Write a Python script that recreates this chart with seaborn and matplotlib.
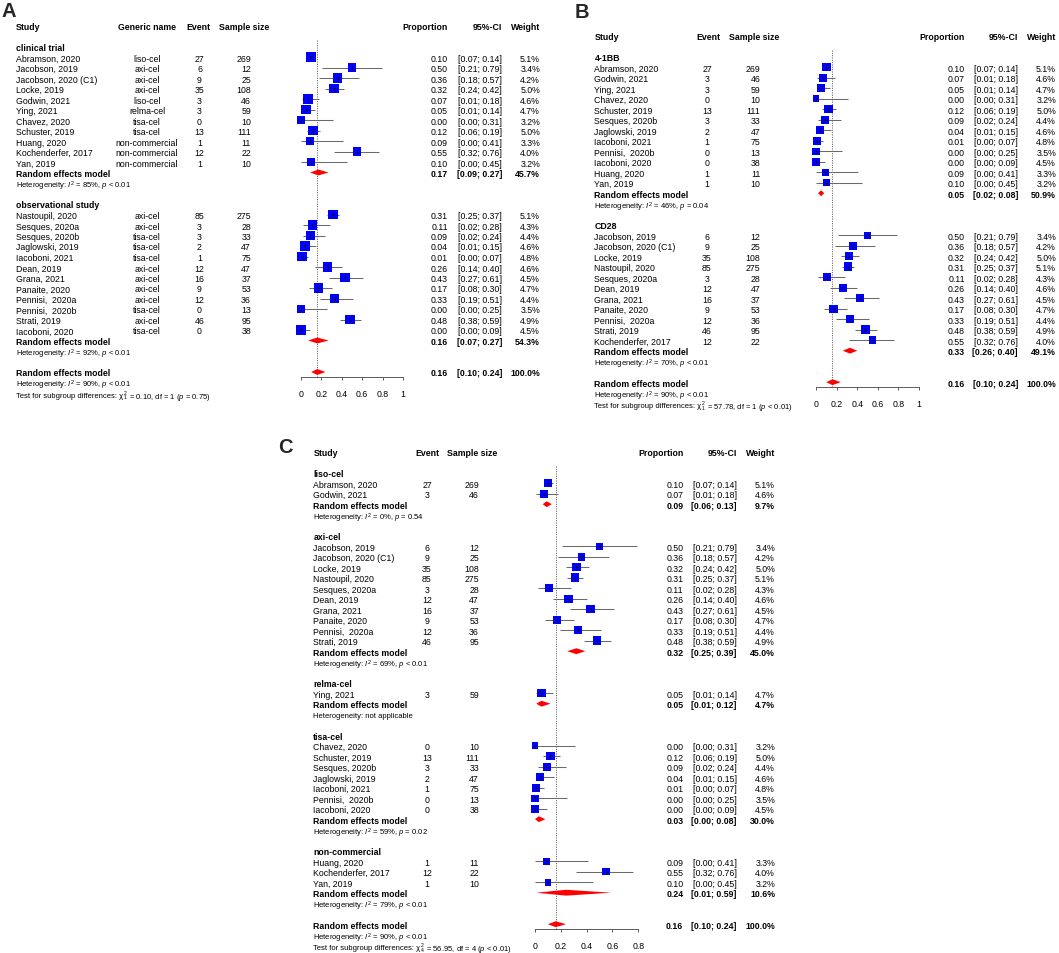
import matplotlib
matplotlib.use("Agg")
import matplotlib.pyplot as plt
import matplotlib.transforms as mtransforms
import pandas as pd
import seaborn as sns

sns.set_theme(style="white")
plt.rcParams["font.family"] = ["Liberation Sans", "DejaVu Sans"]
plt.rcParams["mathtext.fontset"] = "custom"
plt.rcParams["mathtext.rm"] = "Liberation Sans"
plt.rcParams["mathtext.it"] = "Liberation Sans:italic"
plt.rcParams["mathtext.bf"] = "Liberation Sans:bold"

# ---------------- data ----------------
studies = ["Abramson, 2020", "Jacobson, 2019", "Jacobson, 2020 (C1)", "Locke, 2019",
           "Godwin, 2021", "Ying, 2021", "Chavez, 2020", "Schuster, 2019", "Huang, 2020",
           "Kochenderfer, 2017", "Yan, 2019", "Nastoupil, 2020", "Sesques, 2020a",
           "Sesques, 2020b", "Jaglowski, 2019", "Iacoboni, 2021", "Dean, 2019", "Grana, 2021",
           "Panaite, 2020", "Pennisi,  2020a", "Pennisi,  2020b", "Strati, 2019", "Iacoboni, 2020"]
generic = ["liso-cel", "axi-cel", "axi-cel", "axi-cel", "liso-cel", "relma-cel", "tisa-cel",
           "tisa-cel", "non-commercial", "non-commercial", "non-commercial", "axi-cel", "axi-cel",
           "tisa-cel", "tisa-cel", "tisa-cel", "axi-cel", "axi-cel", "axi-cel", "axi-cel",
           "tisa-cel", "axi-cel", "tisa-cel"]
events = [27, 6, 9, 35, 3, 3, 0, 13, 1, 12, 1, 85, 3, 3, 2, 1, 12, 16, 9, 12, 0, 46, 0]
sample_size = [269, 12, 25, 108, 46, 59, 10, 111, 11, 22, 10, 275, 28, 33, 47, 75, 47, 37,
               53, 36, 13, 95, 38]
proportion = [0.10, 0.50, 0.36, 0.32, 0.07, 0.05, 0.00, 0.12, 0.09, 0.55, 0.10, 0.31, 0.11,
              0.09, 0.04, 0.01, 0.26, 0.43, 0.17, 0.33, 0.00, 0.48, 0.00]
ci_low = [0.07, 0.21, 0.18, 0.24, 0.01, 0.01, 0.00, 0.06, 0.00, 0.32, 0.00, 0.25, 0.02,
          0.02, 0.01, 0.00, 0.14, 0.27, 0.08, 0.19, 0.00, 0.38, 0.00]
ci_high = [0.14, 0.79, 0.57, 0.42, 0.18, 0.14, 0.31, 0.19, 0.41, 0.76, 0.45, 0.37, 0.28,
           0.24, 0.15, 0.07, 0.40, 0.61, 0.30, 0.51, 0.25, 0.59, 0.09]
weight = [5.1, 3.4, 4.2, 5.0, 4.6, 4.7, 3.2, 5.0, 3.3, 4.0, 3.2, 5.1, 4.3, 4.4, 4.6, 4.8,
          4.6, 4.5, 4.7, 4.4, 3.5, 4.9, 4.5]

overall_est, overall_lo, overall_hi, overall_w = 0.16, 0.10, 0.24, 100.0
overall_i2, overall_p = 90, "< 0.01"

A_groups = ["clinical trial", "observational study"]
A_members = [["Abramson, 2020", "Jacobson, 2019", "Jacobson, 2020 (C1)", "Locke, 2019",
              "Godwin, 2021", "Ying, 2021", "Chavez, 2020", "Schuster, 2019", "Huang, 2020",
              "Kochenderfer, 2017", "Yan, 2019"],
             ["Nastoupil, 2020", "Sesques, 2020a", "Sesques, 2020b", "Jaglowski, 2019",
              "Iacoboni, 2021", "Dean, 2019", "Grana, 2021", "Panaite, 2020", "Pennisi,  2020a",
              "Pennisi,  2020b", "Strati, 2019", "Iacoboni, 2020"]]
A_re_est = [0.17, 0.16]
A_re_lo = [0.09, 0.07]
A_re_hi = [0.27, 0.27]
A_re_w = [45.7, 54.3]
A_i2 = [85, 92]
A_p = ["< 0.01", "< 0.01"]
A_test = ["1", "0.10", "1", "= 0.75"]

B_groups = ["4-1BB", "CD28"]
B_members = [["Abramson, 2020", "Godwin, 2021", "Ying, 2021", "Chavez, 2020", "Schuster, 2019",
              "Sesques, 2020b", "Jaglowski, 2019", "Iacoboni, 2021", "Pennisi,  2020b",
              "Iacoboni, 2020", "Huang, 2020", "Yan, 2019"],
             ["Jacobson, 2019", "Jacobson, 2020 (C1)", "Locke, 2019", "Nastoupil, 2020",
              "Sesques, 2020a", "Dean, 2019", "Grana, 2021", "Panaite, 2020", "Pennisi,  2020a",
              "Strati, 2019", "Kochenderfer, 2017"]]
B_re_est = [0.05, 0.33]
B_re_lo = [0.02, 0.26]
B_re_hi = [0.08, 0.40]
B_re_w = [50.9, 49.1]
B_i2 = [46, 70]
B_p = ["= 0.04", "< 0.01"]
B_test = ["1", "57.78", "1", "< 0.01"]

C_groups = ["liso-cel", "axi-cel", "relma-cel", "tisa-cel", "non-commercial"]
C_members = [["Abramson, 2020", "Godwin, 2021"],
             ["Jacobson, 2019", "Jacobson, 2020 (C1)", "Locke, 2019", "Nastoupil, 2020",
              "Sesques, 2020a", "Dean, 2019", "Grana, 2021", "Panaite, 2020", "Pennisi,  2020a",
              "Strati, 2019"],
             ["Ying, 2021"],
             ["Chavez, 2020", "Schuster, 2019", "Sesques, 2020b", "Jaglowski, 2019",
              "Iacoboni, 2021", "Pennisi,  2020b", "Iacoboni, 2020"],
             ["Huang, 2020", "Kochenderfer, 2017", "Yan, 2019"]]
C_re_est = [0.09, 0.32, 0.05, 0.03, 0.24]
C_re_lo = [0.06, 0.25, 0.01, 0.00, 0.01]
C_re_hi = [0.13, 0.39, 0.12, 0.08, 0.59]
C_re_w = [9.7, 45.0, 4.7, 30.0, 10.6]
C_i2 = [0, 69, None, 59, 79]
C_p = ["= 0.54", "< 0.01", None, "= 0.02", "< 0.01"]
C_test = ["4", "56.95", "4", "< 0.01"]

study_df = pd.DataFrame({"study": studies, "generic": generic, "event": events,
                         "n": sample_size, "prop": proportion, "lo": ci_low,
                         "hi": ci_high, "w": weight}).set_index("study")

# ---------------- drawing ----------------
W, H = 1059, 954
DY = 10.5
FS = 6.3
FS_SMALL = 5.5
FS_SCRIPT = 3.7
fig = plt.figure(figsize=(W / 100, H / 100), dpi=100)
renderer = fig.canvas.get_renderer()


def het_text(i2, p):
    if i2 is None:
        return "Heterogeneity: not applicable"
    return r"Heterogeneity: $I^2$ = %d%%, $p$ %s" % (i2, p)


def panel(letter, lpos, y0, cols, f0, f1, xmax, ticks, tick_labels, k,
          members, groups, est, lo, hi, w, i2, pv, test):
    # row layout
    study_rows, grp_rows, re_rows = [], [], []
    r = 2
    for g, mem in enumerate(members):
        grp_rows.append(r)
        for j, name in enumerate(mem):
            study_rows.append((r + 1 + j, name))
        re_rows.append(r + 1 + len(mem))
        r = r + 1 + len(mem) + 3
    r_ov = r
    axis_r = r_ov + 0.45
    top_r, bot_r = -1.0, r_ov + 2.6

    ax = fig.add_axes([f0 / W, 1 - (y0 + bot_r * DY) / H, (f1 - f0) / W,
                       (bot_r - top_r) * DY / H])
    ax.set_xlim(0, xmax)
    ax.set_ylim(bot_r, top_r)
    ax.patch.set_alpha(0)
    tr = mtransforms.blended_transform_factory(
        mtransforms.Affine2D().scale(1 / W, 1) + fig.transFigure, ax.transData)

    def T(x, row, s, ha, bold=False, size=FS):
        return ax.text(x, row, s, transform=tr, ha=ha, va="center_baseline", fontsize=size,
                       fontweight="bold" if bold else "normal", color="black",
                       clip_on=False)

    fig.text(lpos[0] / W, 1 - lpos[1] / H, letter, fontsize=14.5, fontweight="bold",
             ha="left", va="baseline")

    # header
    T(cols["study"], 0, "Study", "left", True)
    if "gen" in cols:
        T(cols["gen"], 0, "Generic name", "center", True)
    T(cols["ev_h"], 0, "Event", "center", True)
    T(cols["ss_h"], 0, "Sample size", "center", True)
    T(cols["prop"], 0, "Proportion", "right", True)
    T(cols["ci"], 0, "95%-CI", "right", True)
    T(cols["w"], 0, "Weight", "right", True)

    # studies
    rows = [rr for rr, _ in study_rows]
    names = [nm for _, nm in study_rows]
    d = study_df.loc[names].reset_index()
    d["row"] = rows
    for _, s in d.iterrows():
        T(cols["study"], s["row"], s["study"], "left")
        if "gen" in cols:
            T(cols["gen"], s["row"], s["generic"], "center")
        T(cols["ev"], s["row"], f"{s['event']:d}", "center")
        T(cols["ss"], s["row"], f"{s['n']:d}", "right")
        T(cols["prop"], s["row"], f"{s['prop']:.2f}", "right")
        T(cols["ci"], s["row"], f"[{s['lo']:.2f}; {s['hi']:.2f}]", "right")
        T(cols["w"], s["row"], f"{s['w']:.1f}%", "right")

    ax.hlines(d["row"], d["lo"], d["hi"], color="#6a6a6a", lw=0.75, zorder=2, clip_on=False)
    c = 0.5184 * k * k
    sns.scatterplot(data=d, x="prop", y="row", size="w", sizes=(3 * c, 6 * c),
                    size_norm=(3.0, 6.0), marker="s", color="#0000FF", linewidth=0,
                    legend=False, ax=ax, zorder=3)
    for coll in ax.collections:
        coll.set_clip_on(False)
    ax.hlines(d["row"], d["prop"] - 0.012 * xmax, d["prop"] + 0.012 * xmax,
              color="#111111", lw=0.6, zorder=4, clip_on=False)
    ax.plot(d["prop"], d["row"], ls="none", marker="|", ms=2.2, mew=0.6, color="#111111",
            zorder=4, clip_on=False)

    # groups and pooled estimates
    def diamond(row, e, l, h):
        hh = 0.28
        ax.fill([l, e, h, e], [row, row - hh, row, row + hh], color="#FF0000", lw=0,
                zorder=3, clip_on=False)

    for g in range(len(groups)):
        T(cols["study"], grp_rows[g], groups[g], "left", True)
        rr = re_rows[g]
        T(cols["study"], rr, "Random effects model", "left", True)
        T(cols["prop"], rr, f"{est[g]:.2f}", "right", True)
        T(cols["ci"], rr, f"[{lo[g]:.2f}; {hi[g]:.2f}]", "right", True)
        T(cols["w"], rr, f"{w[g]:.1f}%", "right", True)
        T(cols["study"], rr + 1, het_text(i2[g], pv[g]), "left", size=FS_SMALL)
        diamond(rr, est[g], lo[g], hi[g])

    T(cols["study"], r_ov, "Random effects model", "left", True)
    T(cols["prop"], r_ov, f"{overall_est:.2f}", "right", True)
    T(cols["ci"], r_ov, f"[{overall_lo:.2f}; {overall_hi:.2f}]", "right", True)
    T(cols["w"], r_ov, f"{overall_w:.1f}%", "right", True)
    T(cols["study"], r_ov + 1, het_text(overall_i2, overall_p), "left", size=FS_SMALL)

    # test for subgroup differences, chi-square with sub/superscript as separate pieces
    rt = r_ov + 2.12
    t1 = T(cols["study"], rt, "Test for subgroup differences: \u03c7", "left", size=FS_SMALL)
    x2 = cols["study"] + t1.get_window_extent(renderer).width + 0.4
    T(x2, rt - 0.2, "2", "left", size=FS_SCRIPT)
    t3 = T(x2, rt + 0.2, test[0], "left", size=FS_SCRIPT)
    x3 = x2 + t3.get_window_extent(renderer).width + 0.2
    T(x3, rt, r" = %s, df = %s ($p$ %s)" % (test[1], test[2], test[3]), "left",
      size=FS_SMALL)
    diamond(r_ov, overall_est, overall_lo, overall_hi)

    ax.vlines(overall_est, 1.4, axis_r, colors="#555555", lw=0.7,
              linestyles=(0, (1.0, 1.4)), zorder=1)

    # axis
    for sp in ["top", "left", "right"]:
        ax.spines[sp].set_visible(False)
    ax.spines["bottom"].set_position(("data", axis_r))
    ax.spines["bottom"].set_color("#5a5a5a")
    ax.spines["bottom"].set_linewidth(0.7)
    ax.set_xticks(ticks)
    ax.set_xticklabels(tick_labels)
    ax.set_yticks([])
    ax.set_xlabel("")
    ax.set_ylabel("")
    ax.tick_params(axis="x", direction="out", length=2.5, width=0.7, color="#5a5a5a",
                   pad=6.0, labelsize=FS, labelcolor="black", bottom=True)
    ax.grid(False)


panel("A", (2, 16.7), 26.5,
      {"study": 16, "gen": 147, "ev": 199.5, "ev_h": 198.5, "ss": 251, "ss_h": 244.5,
       "prop": 448, "ci": 502, "w": 540},
      301, 403, 1.0, [0, 0.2, 0.4, 0.6, 0.8, 1.0], ["0", "0.2", "0.4", "0.6", "0.8", "1"],
      4.4, A_members, A_groups, A_re_est, A_re_lo, A_re_hi, A_re_w, A_i2, A_p, A_test)

panel("B", (575, 18.3), 36.7,
      {"study": 594.5, "ev": 707, "ev_h": 708.5, "ss": 760.5, "ss_h": 754,
       "prop": 965, "ci": 1018, "w": 1056},
      816, 919, 1.0, [0, 0.2, 0.4, 0.6, 0.8, 1.0], ["0", "0.2", "0.4", "0.6", "0.8", "1"],
      3.8, B_members, B_groups, B_re_est, B_re_lo, B_re_hi, B_re_w, B_i2, B_p, B_test)

panel("C", (278, 453), 452.7,
      {"study": 313.3, "ev": 427, "ev_h": 427, "ss": 479, "ss_h": 472,
       "prop": 683.3, "ci": 736.7, "w": 775},
      535, 638.3, 0.8, [0, 0.2, 0.4, 0.6, 0.8], ["0", "0.2", "0.4", "0.6", "0.8"],
      3.8, C_members, C_groups, C_re_est, C_re_lo, C_re_hi, C_re_w, C_i2, C_p, C_test)

fig.savefig("out.png", dpi=100, facecolor="white")
